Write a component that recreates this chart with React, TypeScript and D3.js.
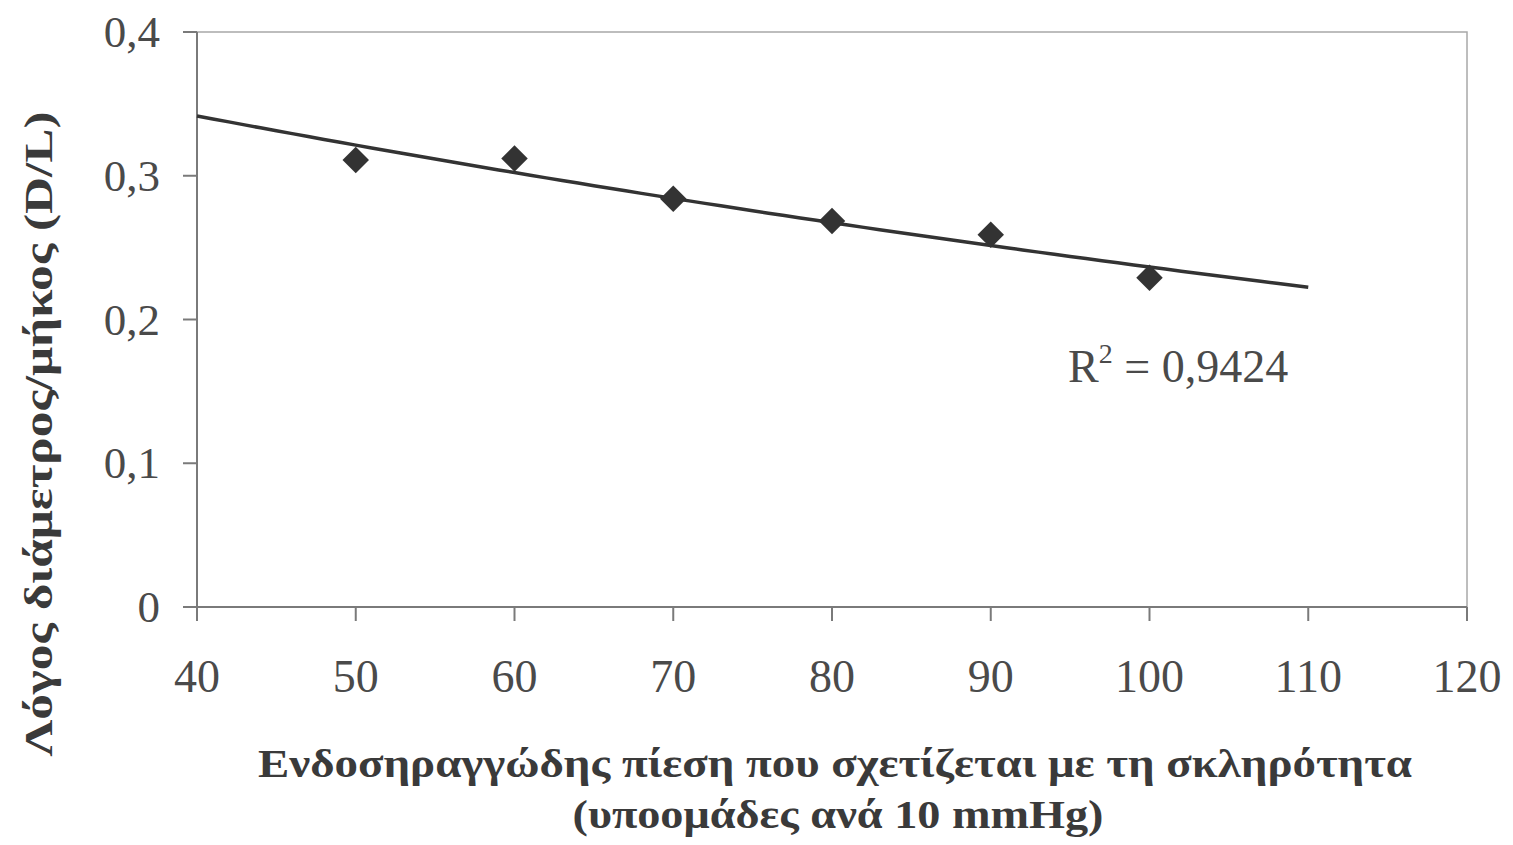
import React from 'react';
import * as d3 from 'd3';

// pressure subgroups (mmHg) and D/L ratio
const pressures = [50, 60, 70, 80, 90, 100];
const ratios = [0.311, 0.312, 0.284, 0.2685, 0.259, 0.229];
const xTicks = [40, 50, 60, 70, 80, 90, 100, 110, 120];
const yTicks = [0, 0.1, 0.2, 0.3, 0.4];
const trendRange = [40, 110];
const r2Label = '0,9424';
const xTitle = ['Ενδοσηραγγώδης πίεση που σχετίζεται με τη σκληρότητα', '(υποομάδες ανά 10 mmHg)'];
const yTitle = 'Λόγος διάμετρος/μήκος (D/L)';

const W = 1513;
const H = 845;
const margin = { top: 32, right: 46, bottom: 238, left: 197 };
const serif = "'Liberation Serif', 'Times New Roman', serif";

const App = () => {
  const x = d3.scaleLinear().domain([40, 120]).range([margin.left, W - margin.right]);
  const y = d3.scaleLinear().domain([0, 0.4]).range([H - margin.bottom, margin.top]);

  // exponential trendline (least squares on ln y), like Excel
  const lnY = ratios.map(v => Math.log(v));
  const mx = d3.mean(pressures)!;
  const my = d3.mean(lnY)!;
  const b =
    d3.sum(pressures, (p, i) => (p - mx) * (lnY[i] - my)) / d3.sum(pressures, p => (p - mx) ** 2);
  const a = Math.exp(my - b * mx);
  const trendPts = d3.range(trendRange[0], trendRange[1] + 0.5, 1);
  const line = d3
    .line<number>()
    .x(d => x(d))
    .y(d => y(a * Math.exp(b * d)));

  const fmt = (d: number) => (d === 0 ? '0' : d3.format('.1f')(d).replace('.', ','));
  const diamond = d3.symbol().type(d3.symbolSquare).size(350)();
  const axisColor = '#7a7a7a';
  const textColor = '#4a4a4a';

  return (
    <svg width={W} height={H} style={{ position: 'absolute', left: 0, top: 0, background: '#fff' }}>
      {/* plot border */}
      <rect
        x={x(40)}
        y={y(0.4)}
        width={x(120) - x(40)}
        height={y(0) - y(0.4)}
        fill="none"
        stroke="#a8a8a8"
        strokeWidth={1.5}
      />
      {/* axes */}
      <line x1={x(40)} x2={x(120)} y1={y(0)} y2={y(0)} stroke={axisColor} strokeWidth={2} />
      <line x1={x(40)} x2={x(40)} y1={y(0)} y2={y(0.4)} stroke={axisColor} strokeWidth={2} />
      {xTicks.map(t => (
        <g key={'x' + t}>
          <line x1={x(t)} x2={x(t)} y1={y(0)} y2={y(0) + 14} stroke={axisColor} strokeWidth={2} />
          <text
            x={x(t)}
            y={y(0) + 85}
            textAnchor="middle"
            fontFamily={serif}
            fontSize={46}
            fill={textColor}
          >
            {t}
          </text>
        </g>
      ))}
      {yTicks.map(t => (
        <g key={'y' + t}>
          <line x1={x(40) - 14} x2={x(40)} y1={y(t)} y2={y(t)} stroke={axisColor} strokeWidth={2} />
          <text
            x={x(40) - 37}
            y={y(t) + 15}
            textAnchor="end"
            fontFamily={serif}
            fontSize={45}
            fill={textColor}
          >
            {fmt(t)}
          </text>
        </g>
      ))}

      {/* trendline */}
      <path d={line(trendPts) || ''} fill="none" stroke="#333" strokeWidth={3.5} />

      {/* data points */}
      {pressures.map((p, i) => (
        <path
          key={p}
          d={diamond || ''}
          transform={`translate(${x(p)},${y(ratios[i])}) rotate(45)`}
          fill="#333"
        />
      ))}

      {/* R² label */}
      <text x={1068} y={382} fontFamily={serif} fontSize={46} fill={textColor}>
        R
        <tspan fontSize={28} dy={-19}>
          2
        </tspan>
        <tspan dy={19}> = {r2Label}</tspan>
      </text>

      {/* axis titles */}
      <text
        x={835}
        y={777}
        textAnchor="middle"
        fontFamily={serif}
        fontWeight="bold"
        fontSize={40}
        fill="#3a3a3a"
        textLength={1154}
        lengthAdjust="spacingAndGlyphs"
      >
        {xTitle[0]}
      </text>
      <text
        x={838}
        y={828}
        textAnchor="middle"
        fontFamily={serif}
        fontWeight="bold"
        fontSize={40}
        fill="#3a3a3a"
        textLength={531}
        lengthAdjust="spacingAndGlyphs"
      >
        {xTitle[1]}
      </text>
      <text
        transform="translate(52,434) rotate(-90)"
        textAnchor="middle"
        fontFamily={serif}
        fontWeight="bold"
        fontSize={40}
        fill="#3a3a3a"
        textLength={645}
        lengthAdjust="spacingAndGlyphs"
      >
        {yTitle}
      </text>
    </svg>
  );
};

export default App;
